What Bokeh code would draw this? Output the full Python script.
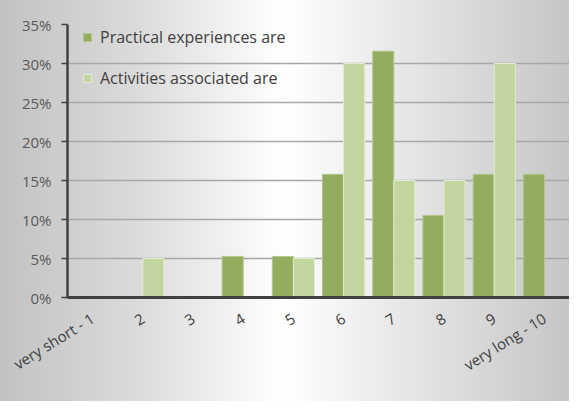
import math
from bokeh.plotting import figure
from bokeh.models import ColumnDataSource, FactorRange, Range1d, Legend, LegendItem, FixedTicker
from bokeh.transform import dodge
from bokeh.embed import file_html
from bokeh.resources import INLINE

categories = ["very short - 1", "2", "3", "4", "5", "6", "7", "8", "9", "very long - 10"]
practical = [0, 0, 0, 5.26, 5.26, 15.79, 31.58, 10.53, 15.79, 15.79]
activities = [0, 5, 0, 0, 5, 30, 15, 15, 30, 0]
series_names = ["Practical experiences are", "Activities associated are"]
y_ticks = [0, 5, 10, 15, 20, 25, 30, 35]
y_tick_labels = ["0%", "5%", "10%", "15%", "20%", "25%", "30%", "35%"]

src = ColumnDataSource(dict(cat=categories, practical=practical, activities=activities))

FONT = "Open Sans"

p = figure(width=569, height=401, output_backend="svg", toolbar_location=None,
           x_range=FactorRange(factors=categories, range_padding=0),
           y_range=Range1d(0, 35),
           min_border_left=67, min_border_right=0, min_border_top=24, min_border_bottom=104,
           styles={"background": "linear-gradient(to right, #c2c2c2 0%, #dcdcdc 25%, #ffffff 50%, #e2e2e2 75%, #c6c6c6 100%)"})
p.background_fill_alpha = 0
p.border_fill_alpha = 0
p.outline_line_color = None

r1 = p.vbar(x=dodge("cat", -0.21, range=p.x_range), top="practical", width=0.42, source=src,
            fill_color="#93ad5e", line_color="#b3c78c", line_width=1)
r2 = p.vbar(x=dodge("cat", 0.21, range=p.x_range), top="activities", width=0.42, source=src,
            fill_color="#c3d6a0", line_color="#e2ecd2", line_width=1)

p.xgrid.grid_line_color = None
p.ygrid.grid_line_color = "#a8a8a8"
p.ygrid.grid_line_width = 1.5
p.ygrid.ticker = FixedTicker(ticks=y_ticks)

ya = p.yaxis[0]
ya.ticker = FixedTicker(ticks=y_ticks)
ya.major_label_overrides = {t: l for t, l in zip(y_ticks, y_tick_labels)}
ya.axis_line_color = "#404040"
ya.axis_line_width = 2.5
ya.major_tick_line_color = "#404040"
ya.major_tick_line_width = 1.5
ya.major_tick_out = 6
ya.major_tick_in = 0
ya.minor_tick_line_color = None
ya.major_label_text_font = FONT
ya.major_label_text_font_size = "15px"
ya.major_label_text_color = "#595959"
ya.major_label_standoff = 10

xa = p.xaxis[0]
xa.axis_line_color = "#404040"
xa.axis_line_width = 3
xa.major_tick_line_color = None
xa.minor_tick_line_color = None
xa.major_label_orientation = math.radians(32)
xa.major_label_text_font = FONT
xa.major_label_text_font_size = "15px"
xa.major_label_text_color = "#404040"
xa.major_label_standoff = 13

legend = Legend(items=[LegendItem(label=series_names[0], renderers=[r1]),
                       LegendItem(label=series_names[1], renderers=[r2])],
                location=(9, 202), orientation="vertical")
legend.background_fill_alpha = 0
legend.border_line_alpha = 0
legend.label_text_font = FONT
legend.label_text_font_size = "16px"
legend.label_text_color = "#404040"
legend.glyph_width = 10
legend.glyph_height = 10
legend.label_height = 20
legend.spacing = 19
legend.padding = 6
legend.margin = 0
legend.label_standoff = 8
p.add_layout(legend, "center")

open("out.html", "w").write(file_html(p, INLINE))
